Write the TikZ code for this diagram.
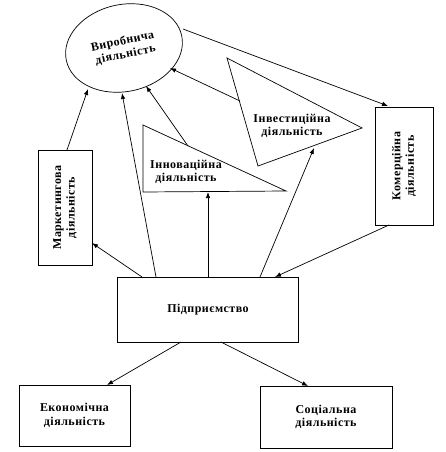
\documentclass[tikz,border=0pt]{standalone}
\usepackage{fontspec}
\setmainfont{Liberation Serif}[LetterSpace=4]
\usetikzlibrary{shapes.geometric,arrows.meta}
\begin{document}
\begin{tikzpicture}[x=1pt,y=-1pt,
  lbl/.style={font=\bfseries\fontsize{12}{13.5}\selectfont, align=center, inner sep=0pt},
  box/.style={draw, line width=0.7pt, inner sep=0pt, font=\bfseries\fontsize{12}{13.5}\selectfont, align=center},
  arr/.style={-{Latex[length=6pt,width=4.5pt]}, line width=0.7pt},
  ln/.style={line width=0.7pt}]
\useasboundingbox (0,0) rectangle (445,452);
% ellipse
\node[ellipse, draw, line width=0.7pt, minimum width=118pt, minimum height=87pt, inner sep=0pt,
  rotate=12, font=\bfseries\fontsize{12}{13.5}\selectfont, align=center] (vyr) at (124,48) {Виробнича\\діяльність};
% triangles
\coordinate (i1) at (227,58);
\coordinate (i2) at (362,128);
\coordinate (i3) at (258,166);
\draw[ln] (i1) -- (i2) -- (i3) -- cycle;
\node[lbl] (invt) at (292,126) {Інвестиційна\\діяльність};
\coordinate (n1) at (143,125);
\coordinate (n2) at (286,191);
\coordinate (n3) at (143,192);
\draw[ln] (n1) -- (n2) -- (n3) -- cycle;
\node[lbl] (innt) at (186,172) {Інноваційна\\діяльність};
% boxes
\node[box, rotate=90, minimum width=115pt, minimum height=54pt] (mark) at (65,207.5) {Маркетингова\\діяльність};
\node[box, rotate=90, minimum width=118pt, minimum height=58pt] (kom) at (404,166) {Комерційна\\діяльність};
\node[box, minimum width=181pt, minimum height=65pt] (pid) at (208,309.5) {Підприємство};
\node[box, minimum width=111pt, minimum height=61pt] (eko) at (74.5,415.5) {Економічна\\діяльність};
\node[box, minimum width=132pt, minimum height=62pt] (soc) at (326,417) {Соціальна\\діяльність};
% connector end points
\coordinate (a1s) at (67,150);   \coordinate (a1e) at (88,89);
\coordinate (a2s) at (156,277);  \coordinate (a2e) at (122,93);
\coordinate (a3s) at (188,146);  \coordinate (a3e) at (146,86);
\coordinate (a4s) at (240,101);  \coordinate (a4e) at (170,68);
\coordinate (a5s) at (183,29);   \coordinate (a5e) at (388,106);
\coordinate (a6s) at (208,277);  \coordinate (a6e) at (208,192);
\coordinate (a7s) at (260,277);  \coordinate (a7e) at (314,148);
\coordinate (a8s) at (389,225);  \coordinate (a8e) at (275,277);
\coordinate (a9s) at (142,277);  \coordinate (a9e) at (92,243);
\coordinate (a10s) at (181,342); \coordinate (a10e) at (107,385);
\coordinate (a11s) at (221,342); \coordinate (a11e) at (308,386);
\draw[arr] (a1s) -- (a1e);
\draw[arr] (a2s) -- (a2e);
\draw[arr] (a3s) -- (a3e);
\draw[arr] (a4s) -- (a4e);
\draw[arr] (a5s) -- (a5e);
\draw[arr] (a6s) -- (a6e);
\draw[arr] (a7s) -- (a7e);
\draw[arr] (a8s) -- (a8e);
\draw[arr] (a9s) -- (a9e);
\draw[arr] (a10s) -- (a10e);
\draw[arr] (a11s) -- (a11e);
\end{tikzpicture}
\end{document}
